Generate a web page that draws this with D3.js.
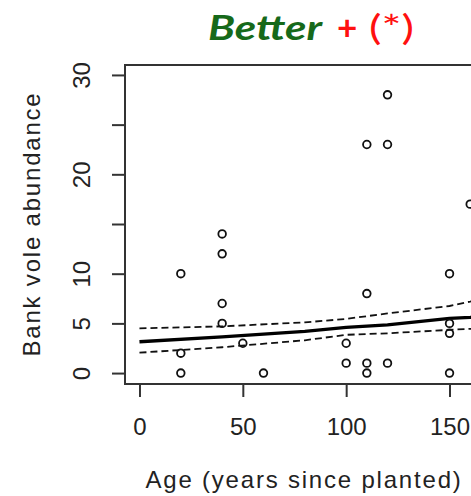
<!DOCTYPE html>
<html>
<head>
<meta charset="utf-8">
<script src="https://cdnjs.cloudflare.com/ajax/libs/d3/7.8.5/d3.min.js"></script>
<style>
  body { margin: 0; background: #fff; }
  text { font-family: "Liberation Sans", Arial, sans-serif; fill: #222; }
</style>
</head>
<body>
<script>
// Data: bank vole counts against plantation age
var age = [20, 20, 20, 40, 40, 40, 40, 50, 60, 100, 100, 110, 110, 110, 110, 120, 120, 120, 150, 150, 150, 150, 160];
var voles = [10, 2, 0, 14, 12, 7, 5, 3, 0, 3, 1, 23, 8, 1, 0, 28, 23, 1, 10, 5, 4, 0, 17];

// fitted model line and its confidence band
var fitAge = [0, 40, 80, 100, 120, 150, 160, 172];
var fitMean = [3.15, 3.65, 4.2, 4.6, 4.85, 5.5, 5.6, 5.8];
var fitUpper = [4.5, 4.7, 5.1, 5.45, 6.0, 6.75, 7.2, 7.8];
var fitLower = [2.05, 2.6, 3.3, 3.85, 4.0, 4.35, 4.45, 4.5];

var xTicks = [0, 50, 100, 150];
var yTicks = [0, 5, 10, 15, 20, 25, 30];
var yTickLabels = ["0", "5", "10", "", "20", "", "30"];

// Step 1: chart size
var svgWidth = 471;
var svgHeight = 496;

var margin = {
  top: 65,
  left: 125,
  bottom: 112
};
var height = svgHeight - margin.top - margin.bottom;
var width = 370;

var svg = d3.select("body")
  .append("svg")
  .attr("width", svgWidth)
  .attr("height", svgHeight);

var chartGroup = svg.append("g")
  .attr("transform", `translate(${margin.left}, ${margin.top})`);

// Step 2: scales
var xScale = d3.scaleLinear()
  .domain([-7, 172])
  .range([0, width]);

var yScale = d3.scaleLinear()
  .domain([-1.1, 31])
  .range([height, 0]);

chartGroup.append("clipPath")
  .attr("id", "plotclip")
  .append("rect")
  .attr("width", width)
  .attr("height", height);

// Step 3: axes
var leftAxis = d3.axisLeft(yScale)
  .tickValues(yTicks)
  .tickSize(13)
  .tickSizeOuter(0)
  .tickFormat((d, i) => yTickLabels[i]);

var bottomAxis = d3.axisBottom(xScale)
  .tickValues(xTicks)
  .tickSize(13)
  .tickSizeOuter(0);

var yAxis = chartGroup.append("g").call(leftAxis);
yAxis.select(".domain").remove();
yAxis.selectAll("line").attr("stroke", "#333").attr("stroke-width", 2);
yAxis.selectAll("text")
  .attr("x", 0)
  .attr("y", -35)
  .attr("dy", 0)
  .attr("transform", "rotate(-90)")
  .attr("text-anchor", "middle")
  .style("font-family", "'Liberation Sans', Arial, sans-serif")
  .style("font-size", "24px")
  .style("fill", "#222");

var xAxis = chartGroup.append("g")
  .attr("transform", `translate(0, ${height})`)
  .call(bottomAxis);
xAxis.select(".domain").remove();
xAxis.selectAll("line").attr("stroke", "#333").attr("stroke-width", 2);
xAxis.selectAll("text")
  .attr("y", 51)
  .attr("dy", 0)
  .style("font-family", "'Liberation Sans', Arial, sans-serif")
  .style("font-size", "24px")
  .style("fill", "#222");

// box round the plot
chartGroup.append("rect")
  .attr("width", width)
  .attr("height", height)
  .attr("fill", "none")
  .attr("stroke", "#333")
  .attr("stroke-width", 2);

// Step 4: model line + confidence band
var plot = chartGroup.append("g").attr("clip-path", "url(#plotclip)");

var lineFrom = function(values) {
  return d3.line()
    .x((d, i) => xScale(fitAge[i]))
    .y(d => yScale(d))(values);
};

plot.append("path")
  .attr("d", lineFrom(fitUpper))
  .attr("fill", "none")
  .attr("stroke", "#111")
  .attr("stroke-width", 1.8)
  .attr("stroke-dasharray", "7,4");

plot.append("path")
  .attr("d", lineFrom(fitLower))
  .attr("fill", "none")
  .attr("stroke", "#111")
  .attr("stroke-width", 1.8)
  .attr("stroke-dasharray", "7,4");

plot.append("path")
  .attr("d", lineFrom(fitMean))
  .attr("fill", "none")
  .attr("stroke", "#000")
  .attr("stroke-width", 3.3);

// Step 5: points
plot.selectAll("circle")
  .data(age)
  .enter()
  .append("circle")
  .attr("cx", d => xScale(d))
  .attr("cy", (d, i) => yScale(voles[i]))
  .attr("r", 3.8)
  .attr("fill", "none")
  .attr("stroke", "#111")
  .attr("stroke-width", 1.8);

// Step 6: labels
svg.append("text")
  .attr("transform", "translate(40, 224) rotate(-90)")
  .attr("text-anchor", "middle")
  .style("font-size", "24px")
  .style("letter-spacing", "1.8px")
  .text("Bank vole abundance");

svg.append("text")
  .attr("x", 304)
  .attr("y", 488)
  .attr("text-anchor", "middle")
  .style("font-size", "24px")
  .style("letter-spacing", "1.8px")
  .text("Age (years since planted)");

// title in three coloured pieces
svg.append("text")
  .attr("x", 208)
  .attr("y", 40)
  .attr("textLength", 114)
  .attr("lengthAdjust", "spacingAndGlyphs")
  .style("font-family", "Lato, 'Open Sans', sans-serif")
  .style("font-size", "35px")
  .style("font-weight", "bold")
  .style("font-style", "italic")
  .style("fill", "#16691a")
  .text("Better");

svg.append("text")
  .attr("x", 337)
  .attr("y", 40)
  .style("font-family", "Lato, 'Open Sans', sans-serif")
  .style("font-size", "35px")
  .style("font-weight", "bold")
  .style("fill", "#ff1010")
  .text("+");

svg.append("text")
  .attr("x", 369)
  .attr("y", 40)
  .attr("textLength", 45)
  .attr("lengthAdjust", "spacingAndGlyphs")
  .style("font-family", "Lato, 'Open Sans', sans-serif")
  .style("font-size", "35px")
  .style("fill", "#ff1010")
  .text("(*)");
</script>
</body>
</html>
